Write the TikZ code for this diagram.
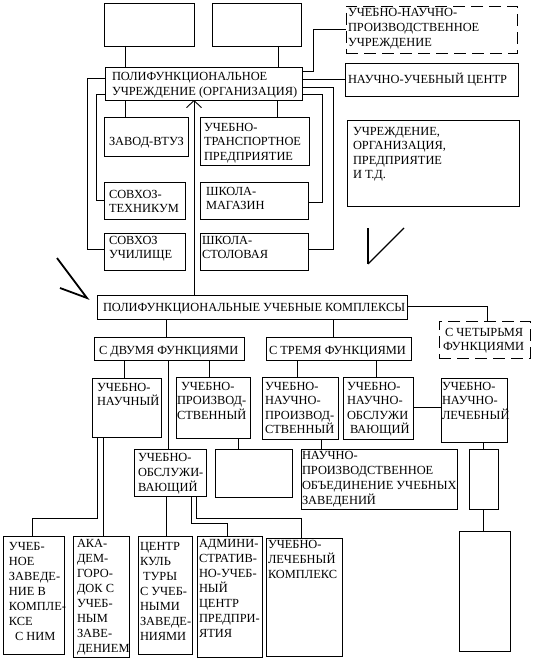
\documentclass[tikz,border=0pt]{standalone}
\usepackage{fontspec}
\setmainfont{Liberation Serif}
\usetikzlibrary{arrows.meta}
\newcommand\mybox[6][bx]{\node[#1,minimum width={#5-#3},minimum height={#6-#4}] (#2) at (#3,#4) {};}
\newcommand\mytx[5][tx]{\node[#1] (#2) at (#3,#4) {\begin{tabular}[t]{@{}l@{}}#5\end{tabular}};}
\begin{document}
\begin{tikzpicture}[x=1pt,y=-1pt,
  bx/.style={draw,line width=0.9pt,inner sep=0pt,outer sep=0pt,anchor=north west},
  dbx/.style={bx,dash pattern=on 12pt off 6pt},
  tx/.style={inner sep=0pt,outer sep=0pt,anchor=base west,font=\fontsize{12.4}{14.5}\selectfont},
  txf/.style={tx,font=\fontsize{12.4}{15}\selectfont},
  ln/.style={line width=0.9pt},
  markln/.style={line width=1.8pt}]
\fill[white] (0,0) rectangle (538,661);
\useasboundingbox (0,0) rectangle (538,661);
% boxes
\mybox{top1}{104}{3}{194}{46}
\mybox{top2}{212}{3}{301}{46}
\mybox{polif}{105}{67}{302}{100}
\mybox{zavod}{104}{117}{188}{156}
\mybox{trans}{200}{117}{309}{165}
\mybox{tehn}{104}{182}{185}{219}
\mybox{uchil}{104}{233}{185}{270}
\mybox{magaz}{200}{182}{308}{219}
\mybox{stol}{200}{233}{308}{270}
\mybox[dbx]{unpu}{346}{6}{517}{53}
\mybox{nuc}{345}{63}{518}{96}
\mybox{uchr}{347}{120}{519}{206}
\mybox{pk}{97}{295}{407}{319}
\mybox[dbx]{f4}{439}{321}{530}{358}
\mybox{f2}{94}{337}{244}{360}
\mybox{f3}{266}{337}{411}{360}
\mybox{un}{92}{378}{161}{437}
\mybox{up}{176}{377}{250}{438}
\mybox{unp}{262}{377}{338}{439}
\mybox{uno}{343}{377}{413}{439}
\mybox{unl}{441}{378}{507}{442}
\mybox{uo}{134}{449}{206}{496}
\mybox{empty}{215}{449}{292}{497}
\mybox{npo}{301}{449}{457}{509}
\mybox{sm}{469}{449}{498}{509}
\mybox{big}{459}{531}{510}{651}
\mybox{b1}{3}{536}{64}{654}
\mybox{b2}{73}{536}{129}{657}
\mybox{b3}{138}{536}{192}{654}
\mybox{b4}{197}{536}{262}{657}
\mybox{b5}{266}{538}{342}{656}
% texts
\mytx{polif-t}{112}{81}{ПОЛИФУНКЦИОНАЛЬНОЕ\\УЧРЕЖДЕНИЕ (ОРГАНИЗАЦИЯ)}
\mytx{zavod-t}{109}{145}{ЗАВОД-ВТУЗ}
\mytx{trans-t}{204}{131}{УЧЕБНО-\\ТРАНСПОРТНОЕ\\ПРЕДПРИЯТИЕ}
\mytx{tehn-t}{109}{198}{СОВХОЗ-\\ТЕХНИКУМ}
\mytx{uchil-t}{109}{244}{СОВХОЗ\\УЧИЛИЩЕ}
\mytx{magaz-t}{206}{195}{ШКОЛА-\\МАГАЗИН}
\mytx{stol-t}{202}{244}{ШКОЛА-\\СТОЛОВАЯ}
\mytx[txf]{unpu-t}{348}{17}{УЧЕБНО-НАУЧНО-\\ПРОИЗВОДСТВЕННОЕ\\УЧРЕЖДЕНИЕ}
\mytx{nuc-t}{348}{83}{НАУЧНО-УЧЕБНЫЙ ЦЕНТР}
\mytx{uchr-t}{353}{135}{УЧРЕЖДЕНИЕ,\\ОРГАНИЗАЦИЯ,\\ПРЕДПРИЯТИЕ\\И Т.Д.}
\mytx{pk-t}{103}{311}{ПОЛИФУНКЦИОНАЛЬНЫЕ УЧЕБНЫЕ КОМПЛЕКСЫ}
\mytx[txf]{f4-t}{445}{336}{С ЧЕТЫРЬМЯ\\[-0.5pt]\hspace*{-2pt}ФУНКЦИЯМИ}
\mytx{f2-t}{99}{354}{С ДВУМЯ ФУНКЦИЯМИ}
\mytx{f3-t}{269}{354}{С ТРЕМЯ ФУНКЦИЯМИ}
\mytx{un-t}{97}{391}{УЧЕБНО-\\НАУЧНЫЙ}
\mytx{up-t}{177}{390}{\hspace*{4pt}УЧЕБНО-\\ПРОИЗВОД-\\СТВЕННЫЙ}
\mytx{unp-t}{265}{390}{УЧЕБНО-\\НАУЧНО-\\ПРОИЗВОД-\\СТВЕННЫЙ}
\mytx{uno-t}{347}{390}{УЧЕБНО-\\НАУЧНО-\\ОБСЛУЖИ\\\hspace*{3pt}ВАЮЩИЙ}
\mytx{unl-t}{442}{390}{УЧЕБНО-\\НАУЧНО-\\ЛЕЧЕБНЫЙ}
\mytx[txf]{uo-t}{138}{461}{УЧЕБНО-\\ОБСЛУЖИ-\\ВАЮЩИЙ}
\mytx[txf]{npo-t}{302}{459}{НАУЧНО-\\ПРОИЗВОДСТВЕННОЕ\\ОБЪЕДИНЕНИЕ УЧЕБНЫХ\\ЗАВЕДЕНИЙ}
\mytx[txf]{b1-t}{9}{550}{УЧЕБ-\\НОЕ\\ЗАВЕДЕ-\\НИЕ В\\КОМПЛЕ-\\КСЕ\\\hspace*{6pt}С НИМ}
\mytx[txf]{b2-t}{77}{547}{АКА-\\ДЕМ-\\ГОРО-\\ДОК С\\УЧЕБ-\\НЫМ\\ЗАВЕ-\\ДЕНИЕМ}
\mytx[txf]{b3-t}{140}{550}{ЦЕНТР\\КУЛЬ\\\hspace*{3pt}ТУРЫ\\С УЧЕБ-\\НЫМИ\\ЗАВЕДЕ-\\НИЯМИ}
\mytx[txf]{b4-t}{199}{547}{АДМИНИ-\\СТРАТИВ-\\НО-УЧЕБ-\\НЫЙ\\ЦЕНТР\\ПРЕДПРИ-\\ЯТИЯ}
\mytx[txf]{b5-t}{268}{548}{УЧЕБНО-\\ЛЕЧЕБНЫЙ\\КОМПЛЕКС}
% connectors top part
\draw[ln] (top1.south -| 125,0) -- (polif.north -| 125,0);
\draw[ln] (top2.south -| 278,0) -- (polif.north -| 278,0);
\draw[ln] (polif.south -| 125,0) -- (zavod.north -| 125,0);
\draw[ln] (polif.south -| 277,0) -- (trans.north -| 277,0);
\draw[ln,-{Straight Barb[length=7pt,width=15pt,line width=0.9pt]}] (pk.north -| 194,0) -- (polif.south -| 194,0);
\draw[ln] (polif.west |- 0,78) -| (87,249) -- (uchil.west |- 0,249);
\draw[ln] (polif.west |- 0,94) -| (96,200) -- (tehn.west |- 0,200);
\draw[ln] (polif.east |- 0,71) -| (313,29) -- (unpu.west |- 0,29);
\draw[ln] (polif.east |- 0,79) -- (nuc.west |- 0,79);
\draw[ln] (polif.east |- 0,87) -| (333,249) -- (stol.east |- 0,249);
\draw[ln] (polif.east |- 0,94) -| (322,202) -- (magaz.east |- 0,202);
% complexes
\draw[ln] (pk.east |- 0,306) -| (f4.north -| 487,0);
\draw[ln] (pk.south -| 166,0) -- (f2.north -| 166,0);
\draw[ln] (pk.south -| 333,0) -- (f3.north -| 333,0);
\draw[ln] (f2.south -| 124,0) -- (un.north -| 124,0);
\draw[ln] (f2.south -| 168,0) -- (uo.north -| 168,0);
\draw[ln] (f2.south -| 209,0) -- (up.north -| 209,0);
\draw[ln] (f3.south -| 297,0) -- (unp.north -| 297,0);
\draw[ln] (f3.south -| 376,0) -- (uno.north -| 376,0);
\draw[ln] (uno.east |- 0,407) -- (unl.west |- 0,407);
\draw[ln] (up.south -| 238,0) -- (empty.north -| 238,0);
\draw[ln] (unp.south -| 321,0) -- (npo.north -| 321,0);
\draw[ln] (unl.south -| 483,0) -- (sm.north -| 483,0);
\draw[ln] (sm.south -| 483,0) -- (big.north -| 483,0);
% bottom
\draw[ln] (un.south -| 97,0) -- (97,518) -| (b1.north -| 32,0);
\draw[ln] (un.south -| 103,0) -- (b2.north -| 103,0);
\draw[ln] (uo.south -| 166,0) -- (b3.north -| 166,0);
\draw[ln] (uo.south -| 191,0) -- (191,523) -| (b4.north -| 227,0);
\draw[ln] (uo.south -| 196,0) -- (196,518) -| (b5.north -| 301,0);
% free marks
\draw[markln] (57,258) -- (87,298) -- (60,288);
\draw[line width=2pt] (368,228) -- (368,264);
\draw[line width=1.2pt] (368,264) -- (404,228);
\end{tikzpicture}
\end{document}
